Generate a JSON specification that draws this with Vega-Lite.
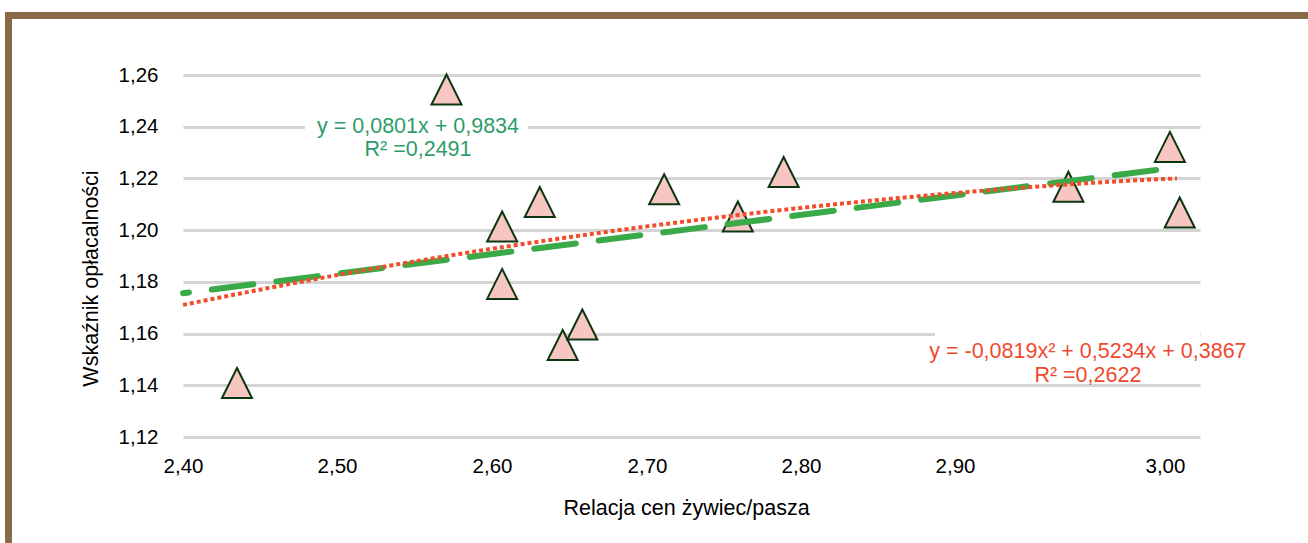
{
  "$schema": "https://vega.github.io/schema/vega-lite/v6.json",
  "width": 1017,
  "height": 362,
  "autosize": {"type": "none"},
  "padding": {"left": 183, "top": 75, "right": 108, "bottom": 106},
  "background": "white",
  "config": {"view": {"stroke": null}, "font": "Liberation Sans"},
  "datasets": {
    "points": [
      {"x": 2.433, "y": 1.1409},
      {"x": 2.561, "y": 1.2544},
      {"x": 2.595, "y": 1.2014},
      {"x": 2.595, "y": 1.1792},
      {"x": 2.618, "y": 1.2109},
      {"x": 2.632, "y": 1.1556},
      {"x": 2.644, "y": 1.1635},
      {"x": 2.694, "y": 1.2158},
      {"x": 2.739, "y": 1.2053},
      {"x": 2.767, "y": 1.2225},
      {"x": 2.941, "y": 1.2168},
      {"x": 3.003, "y": 1.2322},
      {"x": 3.009, "y": 1.2068}
    ],
    "linear": [
      {"x": 2.4, "y": 1.1756},
      {"x": 3.0073, "y": 1.2243}
    ],
    "poly": [
      {"x": 2.4, "y": 1.1711},
      {"x": 2.5, "y": 1.1833},
      {"x": 2.6, "y": 1.1939},
      {"x": 2.7, "y": 1.2028},
      {"x": 2.8, "y": 1.2101},
      {"x": 2.9, "y": 1.2158},
      {"x": 3.0, "y": 1.2198},
      {"x": 3.0073, "y": 1.2200}
    ],
    "boxes": [
      {"x": 2.4745, "x2": 2.6108, "y": 1.2457, "y2": 1.2252},
      {"x": 2.8595, "x2": 3.0214, "y": 1.1614, "y2": 1.1413}
    ],
    "frame": [
      {"x": 2.29125, "x2": 3.0874, "y": 1.28436, "y2": 1.28165},
      {"x": 2.29125, "x2": 2.29552, "y": 1.28436, "y2": 1.079}
    ],
    "linNotes": [
      {"x": 2.5436, "y": 1.2399, "label": "y = 0,0801x + 0,9834"},
      {"x": 2.5436, "y": 1.2310, "label": "R² =0,2491"}
    ],
    "polyNotes": [
      {"x": 2.9529, "y": 1.1529, "label": "y = -0,0819x² + 0,5234x + 0,3867"},
      {"x": 2.9529, "y": 1.1435, "label": "R² =0,2622"}
    ]
  },
  "encoding": {
    "x": {
      "field": "x",
      "type": "quantitative",
      "scale": {"domain": [2.4, 3.0214], "nice": false, "zero": false},
      "axis": {
        "values": [2.4, 2.4941, 2.5888, 2.6835, 2.7776, 2.8717, 3.0],
        "labelExpr": "replace(format(round(datum.value * 10) / 10, '.2f'), '.', ',')",
        "grid": false,
        "domain": false,
        "ticks": false,
        "labelFlush": false,
        "labelPadding": 19,
        "labelFontSize": 20.5,
        "labelColor": "#000000",
        "title": "Relacja cen żywiec/pasza",
        "titleFontSize": 21.5,
        "titleFontWeight": "normal",
        "titleColor": "#000000",
        "titlePadding": 21,
        "titleX": 503
      }
    },
    "y": {
      "field": "y",
      "type": "quantitative",
      "scale": {"domain": [1.12, 1.26], "nice": false, "zero": false},
      "axis": {
        "values": [1.12, 1.14, 1.16, 1.18, 1.2, 1.22, 1.24, 1.26],
        "labelExpr": "replace(format(datum.value, '.2f'), '.', ',')",
        "grid": true,
        "gridColor": "#d4d4d4",
        "gridWidth": 3,
        "domain": false,
        "ticks": false,
        "labelPadding": 25,
        "labelFontSize": 20.5,
        "labelColor": "#000000",
        "title": "Wskaźnik opłacalności",
        "titleFontSize": 21.5,
        "titleFontWeight": "normal",
        "titleColor": "#000000",
        "titlePadding": 16,
        "titleY": 203
      }
    }
  },
  "layer": [
    {
      "data": {"name": "frame"},
      "mark": {"type": "rect", "color": "#8b6a4a", "clip": false},
      "encoding": {"x2": {"field": "x2"}, "y2": {"field": "y2"}}
    },
    {
      "data": {"name": "boxes"},
      "mark": {"type": "rect", "color": "white"},
      "encoding": {"x2": {"field": "x2"}, "y2": {"field": "y2"}}
    },
    {
      "data": {"name": "points"},
      "mark": {
        "type": "point",
        "shape": "M0,-1L1,1L-1,1Z",
        "size": 900,
        "filled": true,
        "fill": "#f8c6c2",
        "stroke": "#0c3612",
        "strokeWidth": 2,
        "opacity": 1
      }
    },
    {
      "data": {"name": "linear"},
      "mark": {
        "type": "line",
        "color": "#3aaa48",
        "strokeWidth": 6,
        "strokeDash": [42, 23],
        "strokeDashOffset": 36,
        "strokeCap": "round"
      }
    },
    {
      "data": {"name": "poly"},
      "mark": {
        "type": "line",
        "color": "#f24d2a",
        "strokeWidth": 4,
        "strokeDash": [4, 3],
        "interpolate": "monotone"
      }
    },
    {
      "data": {"name": "linNotes"},
      "mark": {"type": "text", "align": "center", "baseline": "middle", "fontSize": 21.5, "color": "#2e9c6a"},
      "encoding": {"text": {"field": "label"}}
    },
    {
      "data": {"name": "polyNotes"},
      "mark": {"type": "text", "align": "center", "baseline": "middle", "fontSize": 21.5, "color": "#f04a2e"},
      "encoding": {"text": {"field": "label"}}
    }
  ]
}
